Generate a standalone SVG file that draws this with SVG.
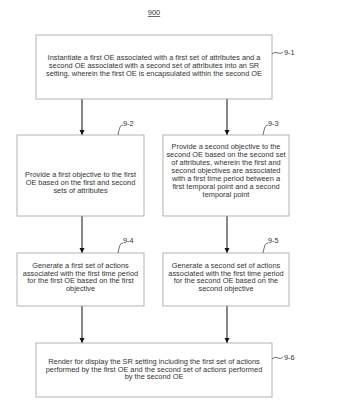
<svg xmlns="http://www.w3.org/2000/svg" width="342" height="415" viewBox="0 0 342 415">
<defs>
<marker id="ah" markerWidth="6" markerHeight="6" refX="5" refY="3" orient="auto" markerUnits="userSpaceOnUse">
<path d="M0,0.5 L5,3 L0,5.5 Z" fill="#111"/>
</marker>
</defs>
<style>
.box{fill:#fff;stroke:#a0a0a0;stroke-width:0.8}
.t{font-family:"Liberation Sans",Arial,sans-serif;font-size:7.4px;fill:#333;text-anchor:middle}
.lbl{font-family:"Liberation Sans",Arial,sans-serif;font-size:7.4px;fill:#333}
.c{stroke:#111;stroke-width:1;fill:none}
.sq{stroke:#333;stroke-width:0.7;fill:none}
</style>
<rect width="342" height="415" fill="#fff"/>
<text x="154" y="15" class="t" text-decoration="underline">900</text>
<g id="connectors">
<line x1="82" y1="99" x2="82" y2="135" class="c" marker-end="url(#ah)"/>
<line x1="227" y1="99" x2="227" y2="135" class="c" marker-end="url(#ah)"/>
<line x1="82" y1="216" x2="82" y2="253" class="c" marker-end="url(#ah)"/>
<line x1="227" y1="216" x2="227" y2="253" class="c" marker-end="url(#ah)"/>
<line x1="82" y1="306" x2="82" y2="343" class="c" marker-end="url(#ah)"/>
<line x1="227" y1="306" x2="227" y2="343" class="c" marker-end="url(#ah)"/>
</g>
<g id="n9-1">
<rect x="36" y="35" width="236" height="64" class="box"/>
<text class="t"><tspan x="154" y="60">Instantiate a first OE associated with a first set of attributes and a</tspan><tspan x="154" y="68">second OE associated with a second set of attributes into an SR</tspan><tspan x="154" y="76">setting, wherein the first OE is encapsulated within the second OE</tspan></text>
<path d="M272,54 q3,-3 6,-1 q3,1.5 5,-1" class="sq"/>
<text x="284" y="55" class="lbl">9-1</text>
</g>
<g id="n9-2">
<rect x="17" y="135" width="127" height="81" class="box"/>
<text class="t"><tspan x="80.5" y="177">Provide a first objective to the first</tspan><tspan x="80.5" y="185">OE based on the first and second</tspan><tspan x="80.5" y="193">sets of attributes</tspan></text>
<path d="M118,135 q1,-5 2,-8 q1,-2 3,-2" class="sq"/>
<text x="123" y="126" class="lbl">9-2</text>
</g>
<g id="n9-3">
<rect x="163" y="135" width="126" height="81" class="box"/>
<text class="t"><tspan x="226" y="149">Provide a second objective to the</tspan><tspan x="226" y="157">second OE based on the second set</tspan><tspan x="226" y="165">of attributes, wherein the first and</tspan><tspan x="226" y="173">second objectives are associated</tspan><tspan x="226" y="181">with a first time period between a</tspan><tspan x="226" y="189">first temporal point and a second</tspan><tspan x="226" y="197">temporal point</tspan></text>
<path d="M263,135 q1,-5 2,-8 q1,-2 3,-2" class="sq"/>
<text x="268" y="126" class="lbl">9-3</text>
</g>
<g id="n9-4">
<rect x="17" y="253" width="127" height="53" class="box"/>
<text class="t"><tspan x="80.5" y="268">Generate a first set of actions</tspan><tspan x="80.5" y="275.7">associated with the first time period</tspan><tspan x="80.5" y="283.4">for the first OE based on the first</tspan><tspan x="80.5" y="291.1">objective</tspan></text>
<path d="M118,253 q1,-5 2,-8 q1,-2 3,-2" class="sq"/>
<text x="123" y="243" class="lbl">9-4</text>
</g>
<g id="n9-5">
<rect x="163" y="253" width="126" height="53" class="box"/>
<text class="t"><tspan x="226" y="268">Generate a second set of actions</tspan><tspan x="226" y="275.7">associated with the first time period</tspan><tspan x="226" y="283.4">for the second OE based on the</tspan><tspan x="226" y="291.1">second objective</tspan></text>
<path d="M263,253 q1,-5 2,-8 q1,-2 3,-2" class="sq"/>
<text x="268" y="243" class="lbl">9-5</text>
</g>
<g id="n9-6">
<rect x="36" y="343" width="236" height="54" class="box"/>
<text class="t"><tspan x="154" y="364">Render for display the SR setting including the first set of actions</tspan><tspan x="154" y="371.7">performed by the first OE and the second set of actions performed</tspan><tspan x="154" y="379.4">by the second OE</tspan></text>
<path d="M272,359 q3,-3 6,-1 q3,1.5 5,-1" class="sq"/>
<text x="284" y="360" class="lbl">9-6</text>
</g>
</svg>
